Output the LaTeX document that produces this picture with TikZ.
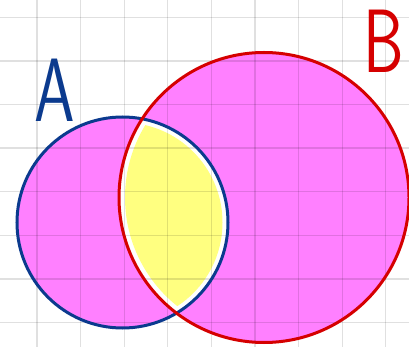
\documentclass[tikz,border=0pt]{standalone}
\usepackage{tikz}
\definecolor{vennpink}{HTML}{FF80FF}
\definecolor{vennyellow}{HTML}{FFFF80}
\definecolor{setblue}{HTML}{0B3A8E}
\definecolor{setred}{HTML}{D50000}
\tikzset{
  gridline/.style={black,opacity=0.12,line width=1.3pt},
  ring/.style={line width=3pt},
  setlabel/.style={font=\sffamily\fontsize{90}{90}\selectfont,inner sep=0pt,xscale=0.72}
}
\begin{document}
\begin{tikzpicture}[x=1pt,y=-1pt]
 \useasboundingbox (0,0) rectangle (409,347);
 \fill[white] (0,0) rectangle (409,347);
 \coordinate (ca) at (122.5,222.5);
 \coordinate (cb) at (264,197.5);
 % set fills
 \fill[vennpink] (ca) circle (105.5);
 \fill[vennpink] (cb) circle (145);
 % intersection A and B
 \begin{scope}
  \clip (ca) circle (105.5);
  \fill[white] (cb) circle (145);
  \clip (cb) circle (139);
  \fill[vennyellow] (ca) circle (100);
 \end{scope}
 % squared paper
 \foreach \i in {0,...,8} \draw[gridline] ({37+43.6*\i},0) -- ({37+43.6*\i},347);
 \foreach \j in {0,...,7} \draw[gridline] (0,{17.3+43.6*\j}) -- (409,{17.3+43.6*\j});
 % outlines
 \draw[ring,setblue] (ca) circle (105.5);
 \draw[ring,setred] (cb) circle (145);
 \node[setlabel,text=setblue] (labA) at (54.5,90.5) {A};
 \node[setlabel,text=setred] (labB) at (383.5,41.5) {B};
\end{tikzpicture}
\end{document}
